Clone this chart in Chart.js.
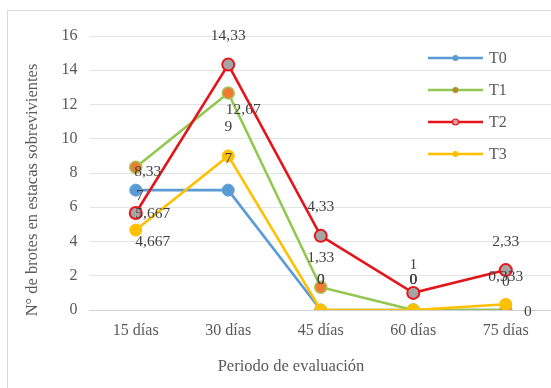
<!DOCTYPE html>
<html>
<head>
<meta charset="utf-8">
<script src="https://cdn.jsdelivr.net/npm/chart.js@4/dist/chart.umd.min.js"></script>
<style>
  html, body { margin: 0; padding: 0; background: #fff; overflow: hidden; }
  #wrap { position: relative; width: 551px; height: 388px; overflow: hidden; }
  #frame { position: absolute; left: 7px; top: 10px; width: 600px; height: 420px;
           border: 1px solid #d9d9d9; box-sizing: border-box; }
  canvas { position: absolute; left: 0; top: 0; }
</style>
</head>
<body>
<div id="wrap">
  <div id="frame"></div>
  <canvas id="c" width="560" height="388"></canvas>
</div>
<script>
// Evaluation periods
const categories = ['15 días', '30 días', '45 días', '60 días', '75 días'];

// Shoots per surviving cutting, by treatment
const t0 = [7, 7, 0, 0, 0];
const t1 = [8.33, 12.67, 1.33, 0, 0];
const t2 = [5.667, 14.33, 4.33, 1, 2.33];
const t3 = [4.667, 9, 0, 0, 0.333];

const seriesNames = ['T0', 'T1', 'T2', 'T3'];

// Y axis range / step
const yMin = 0;
const yMax = 16;
const yStep = 2;

const SERIF = '"Liberation Serif", "Times New Roman", serif';
const TEXT = '#595959';
const LABEL = '#404040';

// Per-series styling
const styles = [
  { line: '#5B9BD5', fill: '#5B9BD5', border: '#5B9BD5', bw: 1 },
  { line: '#92C850', fill: '#ED7D31', border: '#A8C35A', bw: 1.5 },
  { line: '#E3161B', fill: '#A5A5A5', border: '#E3161B', bw: 2 },
  { line: '#FFC000', fill: '#FFC000', border: '#FFC000', bw: 1 }
];

// Value-label offsets (dx, dy) from each point, per series
const labelOffsets = [
  [[4, 6], [0, -31], [0, -30], [0, -30], [22, 2]],
  [[12, 5], [15, 17], [0, -29], [0, -30], [0, -28]],
  [[17, 1], [0, -29], [0, -29], [0, -28], [0, -28]],
  [[17, 12], [0, -29], [0, -30], [0, -30], [0, -27]]
];

const fmt = v => String(v).replace('.', ',');

const seriesData = [t0, t1, t2, t3];

const datasets = seriesData.map((d, i) => ({
  label: seriesNames[i],
  data: d,
  order: seriesData.length - 1 - i,
  borderColor: styles[i].line,
  backgroundColor: styles[i].fill,
  borderWidth: 2.6,
  tension: 0,
  pointRadius: 6,
  pointHoverRadius: 6,
  pointBackgroundColor: styles[i].fill,
  pointBorderColor: styles[i].border,
  pointBorderWidth: styles[i].bw
}));

// Value labels, drawn over all series
const valueLabels = {
  id: 'valueLabels',
  afterDatasetsDraw(chart) {
    const ctx = chart.ctx;
    ctx.save();
    ctx.font = '15.5px ' + SERIF;
    ctx.fillStyle = LABEL;
    ctx.textAlign = 'center';
    ctx.textBaseline = 'middle';
    chart.data.datasets.forEach((ds, i) => {
      const meta = chart.getDatasetMeta(i);
      meta.data.forEach((pt, j) => {
        const off = labelOffsets[i][j];
        ctx.fillText(fmt(ds.data[j]), pt.x + off[0], pt.y + off[1]);
      });
    });
    ctx.restore();
  }
};

// Legend inside the plot, top right, plus the two axis titles
const decorations = {
  id: 'decorations',
  afterDraw(chart) {
    const ctx = chart.ctx;
    ctx.save();
    // legend
    const lx0 = 428, lx1 = 483, ly0 = 58, gap = 32;
    chart.data.datasets.forEach((ds, i) => {
      const y = ly0 + i * gap;
      ctx.strokeStyle = styles[i].line;
      ctx.lineWidth = 2.6;
      ctx.beginPath();
      ctx.moveTo(lx0, y);
      ctx.lineTo(lx1, y);
      ctx.stroke();
      ctx.beginPath();
      ctx.arc((lx0 + lx1) / 2, y, 3, 0, Math.PI * 2);
      ctx.fillStyle = i === 1 ? '#B8892F' : (i === 2 ? '#D9A0A0' : styles[i].fill);
      ctx.fill();
      if (i === 2) {
        ctx.lineWidth = 1.2;
        ctx.strokeStyle = styles[i].border;
        ctx.stroke();
      }
      ctx.fillStyle = TEXT;
      ctx.font = '16px ' + SERIF;
      ctx.textAlign = 'left';
      ctx.textBaseline = 'middle';
      ctx.fillText(ds.label, 489, y + 1);
    });
    // axis titles
    ctx.fillStyle = TEXT;
    ctx.font = '16.5px ' + SERIF;
    ctx.textAlign = 'center';
    ctx.textBaseline = 'middle';
    ctx.fillText('Periodo de evaluación', 291, 367);
    ctx.translate(33, 190);
    ctx.rotate(-Math.PI / 2);
    ctx.fillText('N° de brotes en estacas sobrevivientes', 0, 0);
    ctx.restore();
  }
};

new Chart(document.getElementById('c'), {
  type: 'line',
  data: { labels: categories, datasets },
  options: {
    responsive: false,
    animation: false,
    layout: { padding: { left: 0, right: 5.5, top: 36, bottom: 0 } },
    plugins: {
      legend: { display: false },
      tooltip: { enabled: false }
    },
    scales: {
      x: {
        offset: true,
        grid: { display: false, drawTicks: false },
        border: { display: true, color: '#d0d0d0', width: 1 },
        ticks: { color: TEXT, font: { family: SERIF, size: 16 }, padding: 11 },
        afterFit(scale) { scale.height = 78; }
      },
      y: {
        min: yMin,
        max: yMax,
        ticks: { stepSize: yStep, color: TEXT, font: { family: SERIF, size: 16 }, padding: 12 },
        grid: { color: '#e4e4e4', drawTicks: false, lineWidth: 1 },
        border: { display: false },
        afterFit(scale) { scale.width = 89.5; }
      }
    }
  },
  plugins: [valueLabels, decorations]
});
</script>
</body>
</html>
